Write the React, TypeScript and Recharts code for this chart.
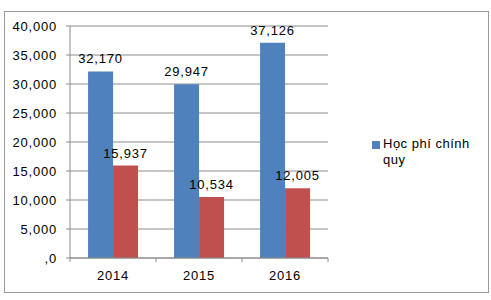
import { BarChart, Bar, XAxis, YAxis, CartesianGrid, LabelList } from "recharts";

const years = ["2014", "2015", "2016"];
const hocPhiChinhQuy = [32170, 29947, 37126];
const seriesRed = [15937, 10534, 12005];
const yTicks = [0, 5000, 10000, 15000, 20000, 25000, 30000, 35000, 40000];

const BLUE = "#4F81BD";
const RED = "#C0504D";
const GRID = "#8c8c8c";
const FONT = "'Liberation Sans', Arial, sans-serif";

const data = years.map((year, i) => ({
  year,
  blue: hocPhiChinhQuy[i],
  red: seriesRed[i],
}));

const fmt = (v: number) => (v === 0 ? ",0" : v.toLocaleString("en-US"));

// category ticks: label in the middle, tick marks on the band edges (Excel style)
function YearTick(props: any) {
  const { x, y, payload, index, visibleTicksCount } = props;
  const half = payload.offset ?? 0;
  const axisY = y - 12;
  return (
    <g>
      <line x1={x - half} x2={x - half} y1={axisY} y2={axisY + 4} stroke={GRID} />
      {index === visibleTicksCount - 1 && (
        <line x1={x + half} x2={x + half} y1={axisY} y2={axisY + 4} stroke={GRID} />
      )}
      <text
        x={x}
        y={y + 10}
        textAnchor="middle"
        fill="#000"
        fontSize={13}
        letterSpacing={0.8}
        fontFamily={FONT}
      >
        {payload.value}
      </text>
    </g>
  );
}

export default function App() {
  return (
    <div
      style={{
        position: "fixed",
        left: 0,
        top: 0,
        width: 491,
        height: 300,
        background: "#fff",
        fontFamily: FONT,
      }}
    >
      <div
        style={{
          position: "absolute",
          left: 4,
          top: 11,
          width: 483,
          height: 280,
          border: "1px solid #9a9a9a",
        }}
      />
      <div style={{ position: "absolute", left: 0, top: 0 }}>
        <BarChart
          width={491}
          height={300}
          data={data}
          margin={{ top: 26, right: 163, bottom: 12, left: 0 }}
          barGap={0}
          barCategoryGap="21%"
        >
          <CartesianGrid vertical={false} stroke={GRID} />
          <XAxis
            dataKey="year"
            height={30}
            axisLine={{ stroke: GRID }}
            tickLine={false}
            tickSize={4}
            tickMargin={8}
            tick={<YearTick />}
            interval={0}
          />
          <YAxis
            width={70}
            domain={[0, 40000]}
            ticks={yTicks}
            tickFormatter={fmt}
            axisLine={{ stroke: GRID }}
            tickLine={{ stroke: GRID }}
            tickSize={4}
            tickMargin={9}
            tick={{ fill: "#000", fontSize: 13, fontFamily: FONT, letterSpacing: 0.8 }}
            interval={0}
          />
          <Bar dataKey="blue" name="Học phí chính quy" fill={BLUE} isAnimationActive={false}>
            <LabelList
              dataKey="blue"
              position="top"
              offset={8}
              formatter={(v: any) => fmt(Number(v))}
              style={{ fill: "#000", fontSize: 13, fontFamily: FONT, letterSpacing: 0.8 }}
            />
          </Bar>
          <Bar dataKey="red" name="" fill={RED} isAnimationActive={false}>
            <LabelList
              dataKey="red"
              position="top"
              offset={8}
              formatter={(v: any) => fmt(Number(v))}
              style={{ fill: "#000", fontSize: 13, fontFamily: FONT, letterSpacing: 0.8 }}
            />
          </Bar>
        </BarChart>
      </div>
      {/* legend shows only the blue series, like the original */}
      <div
        style={{
          position: "absolute",
          left: 372,
          top: 136,
          width: 112,
          display: "flex",
          alignItems: "flex-start",
          gap: 3,
          fontSize: 13,
          lineHeight: "16px",
          letterSpacing: 0.5,
          color: "#000",
        }}
      >
        <div style={{ width: 8, height: 8, background: BLUE, marginTop: 5, flexShrink: 0 }} />
        <div style={{ width: 98 }}>Học phí chính quy</div>
      </div>
    </div>
  );
}
